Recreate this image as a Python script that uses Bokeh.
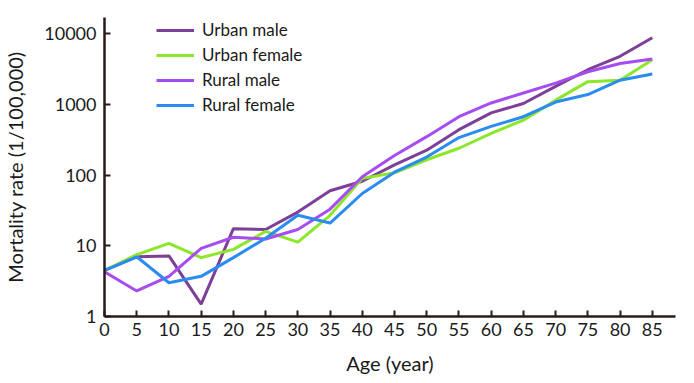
from bokeh.plotting import figure
from bokeh.models import FixedTicker, Legend, LegendItem, Range1d
from bokeh.embed import file_html
from bokeh.resources import INLINE

ages = [0, 5, 10, 15, 20, 25, 30, 35, 40, 45, 50, 55, 60, 65, 70, 75, 80, 85]
urban_male = [4.5, 7.0, 7.2, 1.5, 17.5, 17, 30, 60, 82, 140, 225, 440, 760, 1030, 1800, 3100, 4800, 8800]
urban_female = [4.5, 7.5, 10.8, 6.8, 8.9, 16, 11.3, 27, 90, 108, 165, 240, 390, 600, 1150, 2100, 2200, 4300]
rural_male = [4.3, 2.3, 3.7, 9.2, 13.2, 12.5, 17, 33, 95, 190, 350, 670, 1050, 1450, 2000, 2900, 3800, 4400]
rural_female = [4.5, 7.0, 3.0, 3.7, 6.8, 12.8, 27, 21, 55, 110, 180, 340, 490, 670, 1080, 1380, 2200, 2700]

series_names = ["Urban male", "Urban female", "Rural male", "Rural female"]
series_values = [urban_male, urban_female, rural_male, rural_female]
colors = ["#7E3F98", "#8CE62A", "#A64CF0", "#2A8CF0"]
y_ticks = [1, 10, 100, 1000, 10000]
x_ticks = ages

FONT = "Lato"

p = figure(width=694, height=383, y_axis_type="log", output_backend="svg",
           toolbar_location=None, x_range=Range1d(0, 88.6),
           y_range=Range1d(1, 10 ** 4.23))
p.min_border_left = 104
p.min_border_right = 19
p.min_border_top = 17
p.min_border_bottom = 67
p.outline_line_color = None
p.xgrid.visible = False
p.ygrid.visible = False
p.background_fill_color = "white"
p.border_fill_color = "white"

items = []
for name, vals, c in zip(series_names, series_values, colors):
    r = p.line(ages, vals, line_color=c, line_width=3)
    items.append(LegendItem(label=name, renderers=[r]))

legend = Legend(items=items, location=(52, 201), padding=0, margin=0,
                spacing=4, glyph_width=38, glyph_height=20, label_height=20,
                label_standoff=8, border_line_color=None,
                background_fill_alpha=0, label_text_font=FONT,
                label_text_font_size="17px", label_text_color="#1a1a1a")
p.add_layout(legend)

for ax in (p.xaxis[0], p.yaxis[0]):
    ax.axis_line_color = "#2a1a1a"
    ax.axis_line_width = 2.5
    ax.major_tick_line_color = "#2a1a1a"
    ax.major_tick_line_width = 2
    ax.major_tick_in = 6
    ax.major_tick_out = 0
    ax.minor_tick_line_color = None
    ax.major_label_text_font = FONT
    ax.major_label_text_font_size = "18px"
    ax.major_label_text_color = "#1a1a1a"
    ax.axis_label_text_font = FONT
    ax.axis_label_text_font_size = "20px"
    ax.axis_label_text_font_style = "normal"
    ax.axis_label_text_color = "#1a1a1a"

p.xaxis.ticker = FixedTicker(ticks=x_ticks)
p.yaxis.ticker = FixedTicker(ticks=y_ticks)
p.yaxis.major_label_overrides = {t: str(t) for t in y_ticks}
p.xaxis.major_label_standoff = 6
p.yaxis.major_label_standoff = 8
p.xaxis.axis_label = "Age (year)"
p.yaxis.axis_label = "Mortality rate (1/100,000)"
p.xaxis.axis_label_standoff = 12
p.yaxis.axis_label_standoff = 14

open("out.html", "w").write(file_html(p, INLINE))
